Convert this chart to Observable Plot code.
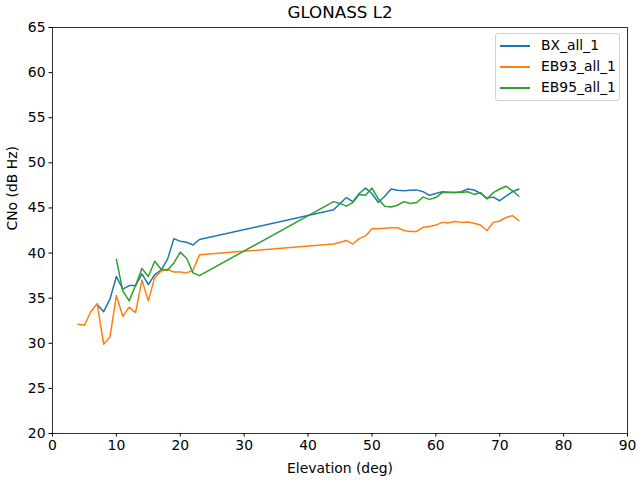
<!DOCTYPE html>
<html>
<head>
<meta charset="utf-8">
<script src="https://cdn.jsdelivr.net/npm/d3@7"></script>
<script src="https://cdn.jsdelivr.net/npm/@observablehq/plot@0.6"></script>
<style>
  html, body { margin: 0; padding: 0; background: #fff; }
  #wrap { position: relative; width: 640px; height: 480px; font-family: "DejaVu Sans", sans-serif; }
  #legend { position: absolute; left: 495px; top: 33px; width: 125px; height: 68px;
    border: 1px solid #d0d0d0; border-radius: 3px; background: rgba(255,255,255,0.8); box-sizing: border-box; }
  .li { position: absolute; left: 0; height: 20px; width: 124px; }
  .li .sw { position: absolute; left: 4px; width: 30px; height: 2px; top: 9.5px; }
  .li .lb { position: absolute; left: 45px; top: 1px; font-size: 13.9px; color: #000; line-height: 18px; }
</style>
</head>
<body>
<div id="wrap"></div>
<script>
const title = "GLONASS L2";
const xLabel = "Elevation (deg)";
const yLabel = "CNo (dB Hz)";
const xTicks = [0, 10, 20, 30, 40, 50, 60, 70, 80, 90];
const yTicks = [20, 25, 30, 35, 40, 45, 50, 55, 60, 65];
const seriesNames = ["BX_all_1", "EB93_all_1", "EB95_all_1"];
const seriesColors = ["#1f77b4", "#ff7f0e", "#2ca02c"];

const bxElev = [7, 8, 9, 10, 11, 12, 13, 14, 15, 16, 17, 18, 19, 20, 21, 22, 23,
  44, 45, 46, 47, 48, 49, 50, 51, 52, 53, 54, 55, 56, 57, 58, 59, 60, 61, 62, 63, 64, 65, 66, 67, 68, 69, 70, 71, 72, 73];
const bxCno = [34.3, 33.5, 34.9, 37.4, 36.0, 36.4, 36.4, 37.7, 36.5, 37.6, 38.1, 39.3, 41.6, 41.3, 41.2, 40.9, 41.5,
  44.8, 45.5, 46.15, 45.7, 46.6, 47.2, 46.6, 45.6, 46.3, 47.1, 46.95, 46.9, 46.95, 47.0, 46.8, 46.4, 46.6, 46.8, 46.75, 46.7, 46.8, 47.1, 47.0, 46.6, 46.1, 46.2, 45.8, 46.3, 46.8, 47.1];

const eb93Elev = [4, 5, 6, 7, 8, 9, 10, 11, 12, 13, 14, 15, 16, 17, 18, 19, 20, 21, 22, 23,
  44, 45, 46, 47, 48, 49, 50, 51, 52, 53, 54, 55, 56, 57, 58, 59, 60, 61, 62, 63, 64, 65, 66, 67, 68, 69, 70, 71, 72, 73];
const eb93Cno = [32.1, 32.0, 33.5, 34.4, 29.9, 30.7, 35.3, 33.0, 34.0, 33.4, 37.0, 34.7, 37.3, 38.0, 38.2, 37.9, 37.9, 37.8, 38.1, 39.8,
  41.0, 41.2, 41.4, 41.0, 41.6, 41.9, 42.7, 42.7, 42.75, 42.8, 42.8, 42.5, 42.4, 42.4, 42.85, 42.95, 43.1, 43.4, 43.35, 43.5, 43.4, 43.45, 43.3, 43.1, 42.5, 43.4, 43.55, 43.95, 44.15, 43.6];

const eb95Elev = [10, 11, 12, 13, 14, 15, 16, 17, 18, 19, 20, 21, 22, 23,
  44, 45, 46, 47, 48, 49, 50, 51, 52, 53, 54, 55, 56, 57, 58, 59, 60, 61, 62, 63, 64, 65, 66, 67, 68, 69, 70, 71, 72, 73];
const eb95Cno = [39.3, 35.8, 34.7, 36.4, 38.3, 37.4, 39.1, 38.2, 38.1, 38.9, 40.1, 39.4, 37.8, 37.5,
  45.7, 45.5, 45.2, 45.6, 46.5, 46.4, 47.2, 46.0, 45.2, 45.1, 45.3, 45.7, 45.5, 45.6, 46.2, 45.95, 46.15, 46.7, 46.7, 46.7, 46.7, 46.8, 46.5, 46.7, 46.0, 46.7, 47.1, 47.4, 46.9, 46.3];

const series = [
  {name: seriesNames[0], elev: bxElev, cno: bxCno},
  {name: seriesNames[1], elev: eb93Elev, cno: eb93Cno},
  {name: seriesNames[2], elev: eb95Elev, cno: eb95Cno}
];
const rows = series.flatMap(s => s.elev.map((e, i) => ({series: s.name, elev: e, cno: s.cno[i]})));

const chart = Plot.plot({
  width: 640,
  height: 480,
  marginLeft: 52,
  marginRight: 13,
  marginTop: 27,
  marginBottom: 47,
  style: {fontFamily: "DejaVu Sans, sans-serif", fontSize: "13.9px", background: "#fff", color: "#000"},
  x: {domain: [0, 90]},
  y: {domain: [20, 65]},
  color: {domain: seriesNames, range: seriesColors},
  marks: [
    Plot.line(rows, {x: "elev", y: "cno", z: "series", stroke: "series", strokeWidth: 1.5}),
    Plot.frame({stroke: "#000", strokeWidth: 0.8}),
    Plot.axisX({ticks: xTicks, tickSize: 3.5, tickPadding: 3.5, label: null, stroke: "#000", fill: "#000", tickFormat: d => String(d)}),
    Plot.axisY({ticks: yTicks, tickSize: 3.5, tickPadding: 3.5, label: null, stroke: "#000", fill: "#000", tickFormat: d => String(d)}),
    Plot.text([title], {frameAnchor: "top", dy: -15, text: d => d, fontSize: 16.7, lineAnchor: "middle", fill: "#000"}),
    Plot.text([xLabel], {frameAnchor: "bottom", dy: 35, text: d => d, fontSize: 13.9, lineAnchor: "middle", fill: "#000"}),
    Plot.text([yLabel], {frameAnchor: "left", dx: -40, rotate: -90, text: d => d, fontSize: 13.9, lineAnchor: "middle", fill: "#000"})
  ]
});

const wrap = document.getElementById("wrap");
wrap.appendChild(chart);

const legend = document.createElement("div");
legend.id = "legend";
seriesNames.forEach((n, i) => {
  const item = document.createElement("div");
  item.className = "li";
  item.style.top = (1 + i * 21) + "px";
  const sw = document.createElement("div");
  sw.className = "sw";
  sw.style.background = seriesColors[i];
  const lb = document.createElement("div");
  lb.className = "lb";
  lb.textContent = n;
  item.appendChild(sw);
  item.appendChild(lb);
  legend.appendChild(item);
});
wrap.appendChild(legend);
</script>
</body>
</html>
